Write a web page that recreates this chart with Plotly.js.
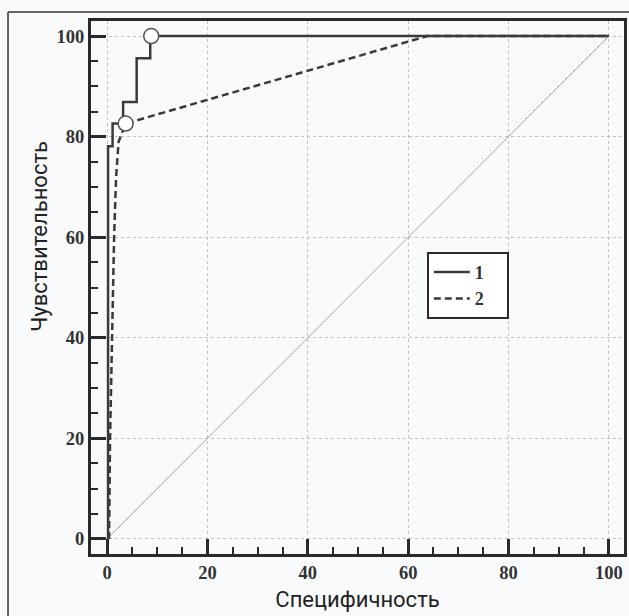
<!DOCTYPE html>
<html>
<head>
<meta charset="utf-8">
<script src="https://cdn.plot.ly/plotly-3.0.1.min.js"></script>
<style>
  html, body { margin: 0; padding: 0; background: #f9fafc; }
  #chart { width: 629px; height: 616px; }
</style>
</head>
<body>
<div id="chart"></div>
<script>
// Curve 1 (solid) — 100 - specificity vs sensitivity
const x1 = [0.2, 0.2, 1.1, 1.1, 3.2, 3.2, 5.9, 5.9, 8.6, 8.6, 100];
const y1 = [0, 78.1, 78.1, 82.6, 82.6, 86.9, 86.9, 95.6, 95.6, 100, 100];
// Curve 2 (dashed)
const x2 = [0.4, 0.6, 1.0, 1.4, 1.8, 2.3, 3.7, 63.8, 100];
const y2 = [0, 20, 40, 60, 72, 79, 82.6, 100, 100];
// Optimal cut-off points
const optX = [3.7, 8.8];
const optY = [82.6, 100];
// Reference diagonal
const diagX = [0, 100];
const diagY = [0, 100];
const tickVals = [0, 20, 40, 60, 80, 100];
const tickText = ['0', '20', '40', '60', '80', '100'];
const legendNames = ['1', '2'];
const xTitle = 'Специфичность';
const yTitle = 'Чувствительность';

const pad = '\u00a0\u00a0\u00a0\u00a0';
const lineColor = '#3a3a3a';
const traces = [
  { x: diagX, y: diagY, mode: 'lines', line: { color: '#a8a8a8', width: 1 }, showlegend: false, hoverinfo: 'skip' },
  { x: x1, y: y1, mode: 'lines', name: legendNames[0] + pad, line: { color: lineColor, width: 2.5 } },
  { x: x2, y: y2, mode: 'lines', name: legendNames[1] + pad, line: { color: lineColor, width: 2.5, dash: '7px,4px' } },
  { x: optX, y: optY, mode: 'markers', showlegend: false,
    marker: { size: 15, color: '#ffffff', line: { color: '#555', width: 1.5 } } }
];

const tickFont = { family: 'Liberation Serif, Times New Roman, serif', size: 18.5, color: '#333', weight: 'bold' };
const titleFont = { family: 'Roboto, sans-serif', size: 22, color: '#222' };
const axisCommon = {
  tickmode: 'array', tickvals: tickVals, ticktext: tickText,
  ticks: 'inside', ticklen: 15, tickwidth: 3, tickcolor: '#2a2a2a',
  showline: true, linewidth: 3, linecolor: '#2a2a2a', mirror: true,
  showgrid: true, gridcolor: '#c2c2c2', gridwidth: 1, griddash: 'dot',
  zeroline: false, tickfont: tickFont,
  minor: { dtick: 5, ticks: 'inside', ticklen: 7, tickwidth: 2, tickcolor: '#2a2a2a', showgrid: false }
};

const layout = {
  width: 629, height: 616,
  margin: { l: 91, r: 5, t: 21, b: 62 },
  paper_bgcolor: '#f9fafc', plot_bgcolor: '#f9fafc',
  showlegend: true,
  xaxis: Object.assign({}, axisCommon, {
    range: [-3.2, 103],
    title: { text: xTitle, font: titleFont, standoff: 10 }
  }),
  yaxis: Object.assign({}, axisCommon, {
    range: [-3, 103]
  }),
  annotations: [
    { text: yTitle, xref: 'paper', yref: 'paper', x: -0.0957, y: 0.597,
      xanchor: 'center', yanchor: 'middle', textangle: -90, showarrow: false, font: titleFont }
  ],
  legend: {
    x: 0.630, y: 0.567, xanchor: 'left', yanchor: 'top',
    bgcolor: '#ffffff', bordercolor: '#2a2a2a', borderwidth: 2,
    font: { family: 'Liberation Serif, Times New Roman, serif', size: 18, color: '#333', weight: 'bold' },
    itemwidth: 36, tracegroupgap: 0
  },
  shapes: [
    { type: 'line', xref: 'paper', yref: 'paper', x0: -0.1557, x1: -0.1557, y0: -0.2, y1: 1.0169,
      line: { color: '#333', width: 1.5 } },
    { type: 'line', xref: 'paper', yref: 'paper', x0: -0.1557, x1: 1.1, y0: 1.0169, y1: 1.0169,
      line: { color: '#333', width: 1.5 } }
  ]
};

Plotly.newPlot('chart', traces, layout, { displayModeBar: false, staticPlot: true });
</script>
</body>
</html>
